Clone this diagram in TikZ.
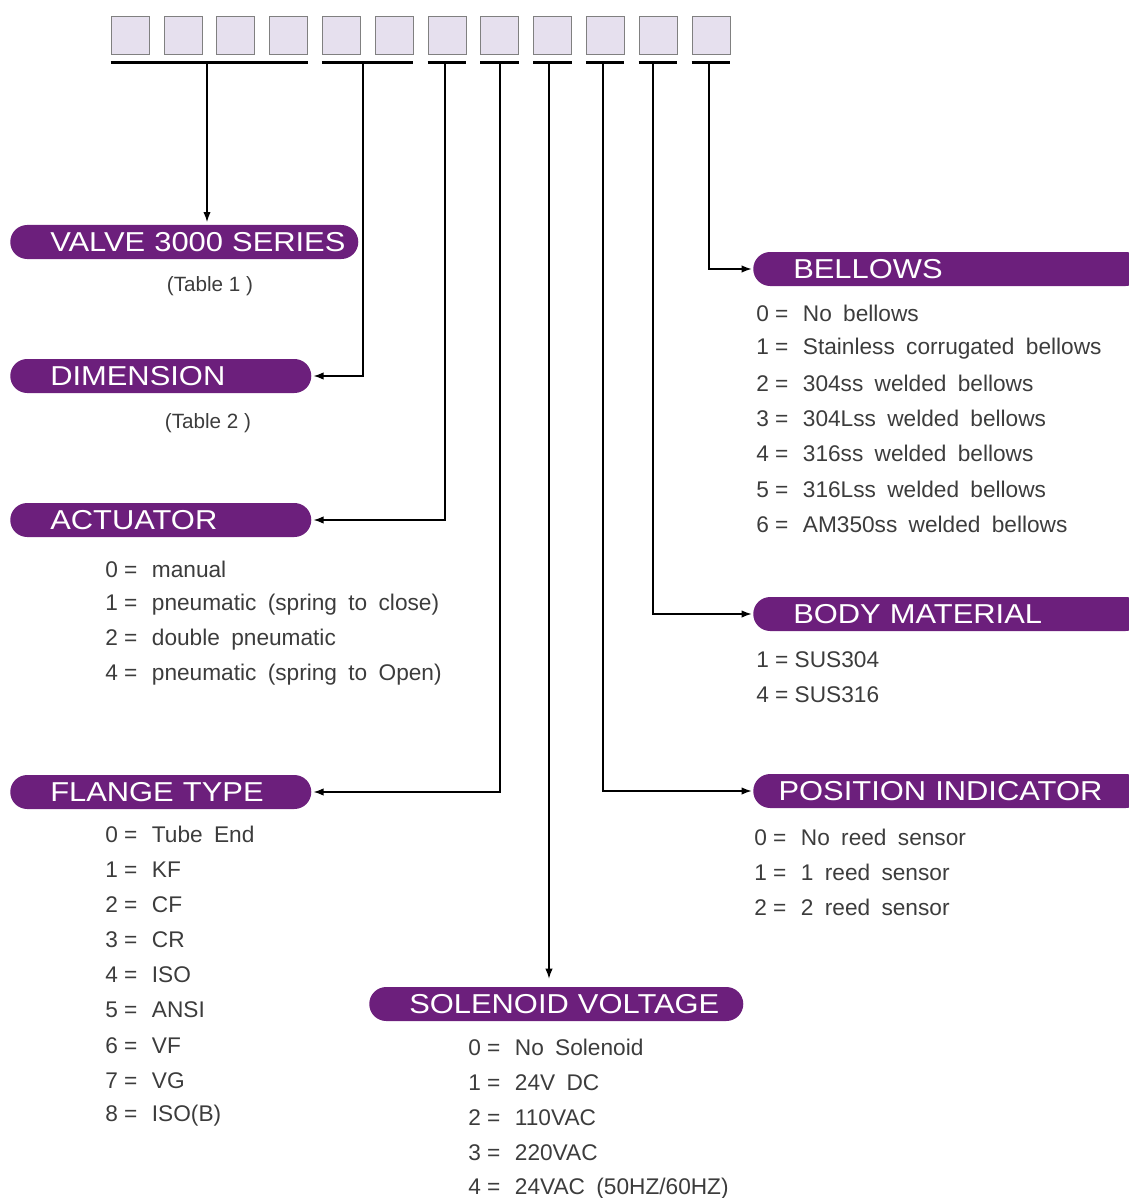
\documentclass[tikz,border=0pt]{standalone}
\usepackage{fontspec}
\setmainfont{Liberation Sans}
\newfontfamily\pillfont[FakeStretch=1.13]{Liberation Sans}
\newfontfamily\optfont[WordSpace=1.8]{Liberation Sans}
\usepackage{tikz}
\usetikzlibrary{positioning, arrows.meta}
\definecolor{pillpurple}{HTML}{6C1F7C}
\definecolor{boxlilac}{HTML}{E6E0EE}
\definecolor{textgray}{HTML}{3C3C3C}
\newcommand{\optrow}[2]{\makebox[35pt][l]{\rmfamily #1 =}#2}

\begin{document}
\begin{tikzpicture}[x=0.75pt,y=-0.75pt,
	pill/.style={fill=pillpurple, text=white, rounded corners=12.7pt, minimum height=25.5pt, inner xsep=0pt, inner ysep=0pt, anchor=west, align=left, font=\pillfont\fontsize{20.5}{24}\selectfont},
	opt/.style={anchor=west, text=textgray, font=\optfont\fontsize{17}{20}\selectfont, inner sep=0pt},
	digit/.style={draw=gray, fill=boxlilac, minimum width=28.5pt, minimum height=28.5pt, inner sep=0pt},
	bar/.style={line width=2pt},
	conn/.style={-{Latex[length=7.5pt,width=5.5pt]}, line width=1pt}]

	\useasboundingbox (0,0) rectangle (1128,1198);

	% code boxes
	\foreach \i in {1,...,12}
		\node[digit] (b\i) at ({130+52.8*(\i-1)},35) {};

	\draw[bar] ([yshift=-6pt]b1.south west) -- ([yshift=-6pt]b4.south east);
	\draw[bar] ([yshift=-6pt]b5.south west) -- ([yshift=-6pt]b6.south east);
	\foreach \i in {7,...,12}
		\draw[bar] ([yshift=-6pt]b\i.south west) -- ([yshift=-6pt]b\i.south east);

	\coordinate (t1) at (207,62);
	\coordinate (t2) at (363,62);
	\coordinate (t3) at (445,62);
	\coordinate (t4) at (500,62);
	\coordinate (t5) at (549,62);
	\coordinate (t6) at (603,62);
	\coordinate (t7) at (653,62);
	\coordinate (t8) at (709,62);

	% headings
	\node[pill, text width=261pt] (series) at (10,242) {\hspace*{30pt}VALVE 3000 SERIES};
	\node[pill, text width=225.75pt] (dimension) at (10,376) {\hspace*{30pt}DIMENSION};
	\node[pill, text width=225.75pt] (actuator) at (10,520) {\hspace*{30pt}ACTUATOR};
	\node[pill, text width=225.75pt] (flange) at (10,792) {\hspace*{30pt}FLANGE TYPE};
	\node[pill, text width=280.5pt] (solenoid) at (369,1004) {\hspace*{30pt}SOLENOID VOLTAGE};
	\node[pill, text width=292pt] (bellows) at (753,269) {\hspace*{30pt}BELLOWS};
	\node[pill, text width=292pt] (body) at (753,614) {\hspace*{30pt}BODY MATERIAL};
	\node[pill, text width=292pt] (position) at (753,791) {\hspace*{19pt}POSITION INDICATOR};

	% connectors
	\draw[conn] (t1) -- ([yshift=2pt]t1 |- series.north);
	\draw[conn] (t2) |- ([xshift=1.5pt]dimension.east);
	\draw[conn] (t3) |- ([xshift=1.5pt]actuator.east);
	\draw[conn] (t4) |- ([xshift=1.5pt]flange.east);
	\draw[conn] (t5) -- ([yshift=6pt]t5 |- solenoid.north);
	\draw[conn] (t6) |- ([xshift=-1pt]position.west);
	\draw[conn] (t7) |- ([xshift=-1pt]body.west);
	\draw[conn] (t8) |- ([xshift=-1pt]bellows.west);

	% options
	\node[opt, anchor=center, font=\fontsize{15.5}{18}\selectfont] (table1) at (210,286) {(Table 1 )};
	\node[opt, anchor=center, font=\fontsize{15.5}{18}\selectfont] (table2) at (208,423) {(Table 2 )};

	\foreach \n/\t [count=\k] in {0/manual, 1/pneumatic (spring to close), 2/double pneumatic, 4/pneumatic (spring to Open)}
		\node[opt] (act\k) at (105,{569+35.3*(\k-1)}) {\optrow{\n}{\t}};

	\foreach \n/\t [count=\k] in {0/Tube End, 1/KF, 2/CF, 3/CR, 4/ISO, 5/ANSI, 6/VF, 7/VG, 8/ISO(B)}
		\node[opt] (fl\k) at (105,{834+35.2*(\k-1)}) {\optrow{\n}{\t}};

	\foreach \n/\t [count=\k] in {0/No Solenoid, 1/24V DC, 2/110VAC, 3/220VAC, 4/{24VAC (50HZ/60HZ)}}
		\node[opt] (sol\k) at (468,{1047+35.3*(\k-1)}) {\optrow{\n}{\t}};

	\foreach \n/\t [count=\k] in {0/No bellows, 1/Stainless corrugated bellows, 2/304ss welded bellows, 3/304Lss welded bellows, 4/316ss welded bellows, 5/316Lss welded bellows, 6/AM350ss welded bellows}
		\node[opt] (bel\k) at (756,{313+35.2*(\k-1)}) {\optrow{\n}{\t}};

	\node[opt, font=\fontsize{17}{20}\selectfont] (body1) at (756,660) {1 = SUS304};
	\node[opt, font=\fontsize{17}{20}\selectfont] (body2) at (756,695) {4 = SUS316};

	\foreach \n/\t [count=\k] in {0/No reed sensor, 1/1 reed sensor, 2/2 reed sensor}
		\node[opt] (pos\k) at (754,{837+35.2*(\k-1)}) {\optrow{\n}{\t}};

\end{tikzpicture}
\end{document}
